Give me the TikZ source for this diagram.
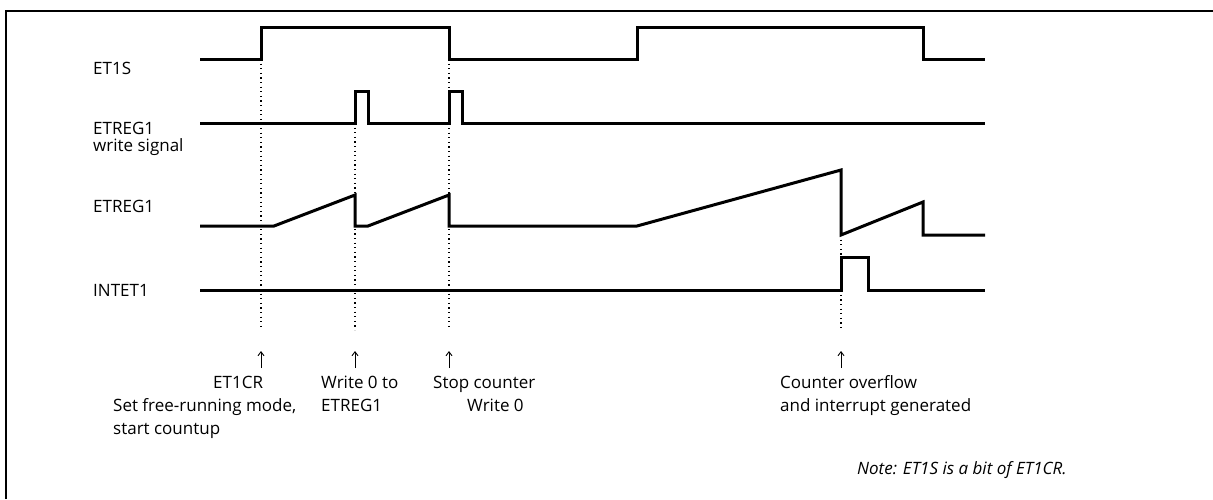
\documentclass[tikz,border=0pt]{standalone}
\usepackage{fontspec}
\setmainfont{Open Sans}
\usetikzlibrary{arrows.meta, positioning}

\begin{document}
\begin{tikzpicture}[x=1pt, y=-1pt, >={Straight Barb[length=4pt, width=6pt]},
  wave/.style={line width=3pt, line join=miter},
  guide/.style={line width=1.2pt, dash pattern=on 1.2pt off 3.4pt},
  lbl/.style={anchor=base west, inner sep=0pt, align=left,
    font=\fontsize{17}{17}\selectfont},
  note/.style={anchor=base west, inner sep=0pt, align=left,
    font=\fontsize{17}{23}\selectfont}]
  \useasboundingbox (0,0) rectangle (1213,499);
  \draw[line width=2.2pt] (6,499) -- (6,11) -- (1213,11);

  % signal names (base = last line)
  \node[lbl] (et1s)   at (93,74)  {ET1S};
  \node[lbl] (wrsig)  at (93,151) {ETREG1\\write signal};
  \node[lbl] (etreg)  at (93,212) {ETREG1};
  \node[lbl] (intet)  at (93,296) {INTET1};

  % waveforms
  \draw[wave] (200,59) -- (261,59) -- (261,27) -- (449,27) -- (449,59)
    -- (637,59) -- (637,27) -- (923,27) -- (923,59) -- (985,59);
  \draw[wave] (200,123) -- (355,123) -- (355,91) -- (368,91) -- (368,123)
    -- (449,123) -- (449,91) -- (462,91) -- (462,123) -- (985,123);
  \draw[wave] (200,226) -- (274,226) -- (355,195) -- (355,226) -- (368,226)
    -- (449,195) -- (449,226) -- (637,226) -- (841,170) -- (841,235)
    -- (923,202) -- (923,235) -- (985,235);
  \draw[wave] (200,290) -- (841,290) -- (841,257) -- (868,257) -- (868,290)
    -- (985,290);

  % timing guides
  \foreach \gx/\gy in {261/59, 355/123, 449/59, 841/235} {
    \draw[guide] (\gx,\gy) -- (\gx,330);
    \draw[->, line width=0.9pt] (\gx,368) -- (\gx,351);
  }

  % event notes (base = last line)
  \node[note] (ev1)  at (213,388) {ET1CR};
  \node[note] (ev1b) at (113,434) {Set free-running mode,\\start countup};
  \node[note] (ev2)  at (321,411) {Write 0 to\\ETREG1};
  \node[note] (ev3)  at (433,388) {Stop counter};
  \node[note] (ev3b) at (467,411) {Write 0};
  \node[note] (ev4)  at (780,411) {Counter overflow\\and interrupt generated};

  \node[note, font=\fontsize{17}{18}\selectfont\itshape] (remark) at (857,474)
    {Note: ET1S is a bit of ET1CR.};
\end{tikzpicture}
\end{document}
